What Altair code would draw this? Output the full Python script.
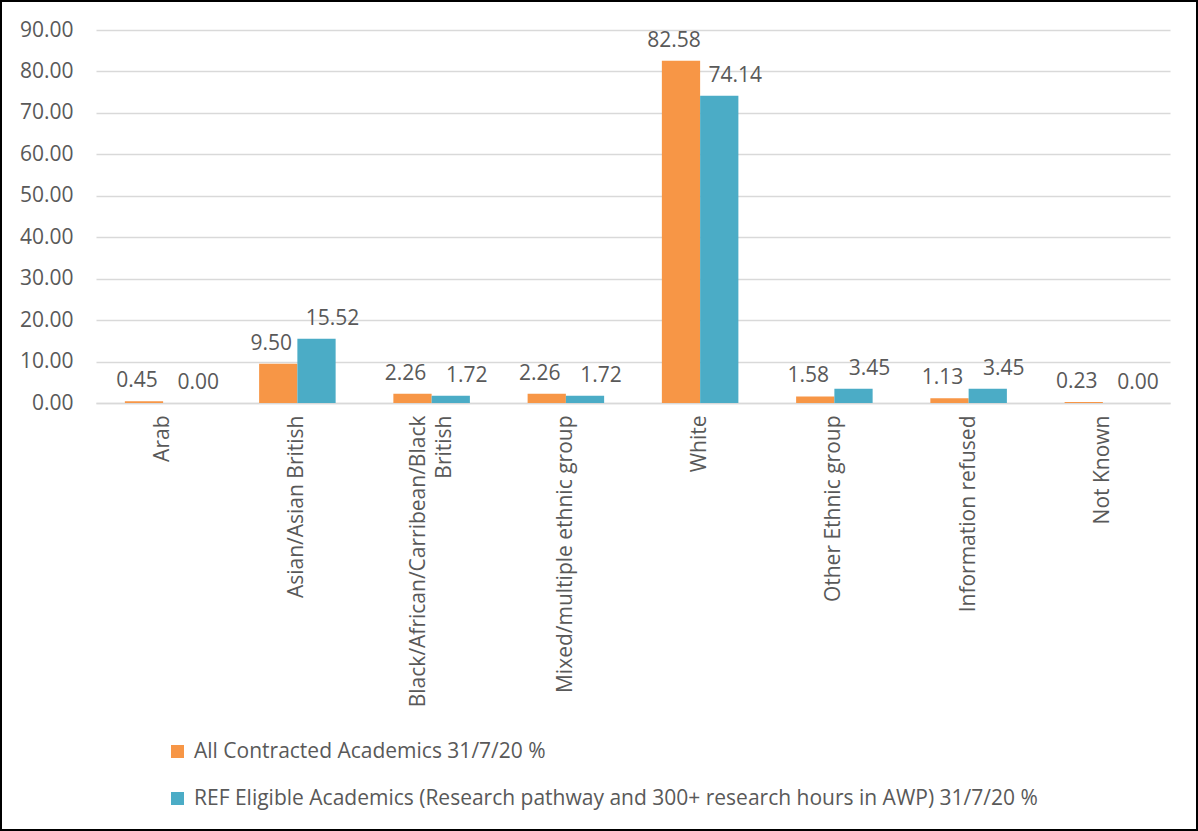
import altair as alt
import pandas as pd

categories = ["Arab", "Asian/Asian British", "Black/African/Carribean/Black British",
              "Mixed/multiple ethnic group", "White", "Other Ethnic group",
              "Information refused", "Not Known"]
series_names = ["All Contracted Academics 31/7/20 %",
                "REF Eligible Academics (Research pathway and 300+ research hours in AWP) 31/7/20 %"]
all_contracted = [0.45, 9.50, 2.26, 2.26, 82.58, 1.58, 1.13, 0.23]
ref_eligible = [0.00, 15.52, 1.72, 1.72, 74.14, 3.45, 3.45, 0.00]
colors = ["#F79646", "#4BACC6"]

rows = []
for c, a, r in zip(categories, all_contracted, ref_eligible):
    rows.append({"cat": c, "series": series_names[0], "value": a})
    rows.append({"cat": c, "series": series_names[1], "value": r})
df = pd.DataFrame(rows)

FONT = "Open Sans"
TXT = "#595959"
FS = 21
LONG = "Black/African/Carribean/Black British"

x_enc = alt.X("cat:N", sort=categories,
              scale=alt.Scale(paddingInner=0.43, paddingOuter=0.215),
              axis=alt.Axis(title=None, labelAngle=-90, labelAlign="right", labelBaseline="middle",
                            labelPadding=12, ticks=False, domain=True, domainColor="#d9d9d9",
                            domainWidth=1.5, labelFontSize=FS, labelColor=TXT, labelFont=FONT,
                            labelLimit=400, labelLineHeight=26,
                            labelOffset={"condition": {"test": f"datum.value == '{LONG}'", "value": -13},
                                         "value": 0},
                            labelExpr=f"datum.label == '{LONG}' ? ['Black/African/Carribean/Black', 'British'] : datum.label"))
xo = alt.XOffset("series:N", sort=series_names, scale=alt.Scale(paddingInner=0, paddingOuter=0))
y_enc = alt.Y("value:Q", scale=alt.Scale(domain=[0, 90], nice=False),
              axis=alt.Axis(title=None, values=list(range(0, 91, 10)), format=".2f",
                            ticks=False, domain=False, gridColor="#d9d9d9", gridWidth=1.5,
                            labelFontSize=FS, labelColor=TXT, labelFont=FONT, labelPadding=23))

bars = alt.Chart(df).mark_bar().encode(
    x=x_enc, xOffset=xo, y=y_enc,
    color=alt.Color("series:N", sort=series_names,
                    scale=alt.Scale(domain=series_names, range=colors),
                    legend=alt.Legend(title=None, orient="none", legendX=71, legendY=711,
                                      direction="vertical", symbolType="square", symbolSize=170,
                                      symbolStrokeWidth=0, labelFontSize=FS, labelColor=TXT,
                                      labelFont=FONT, labelLimit=1000, rowPadding=25,
                                      labelOffset=6))
)

def labels(name, dx):
    return alt.Chart(df).transform_filter(alt.datum.series == name).mark_text(
        baseline="alphabetic", dy=-14, dx=dx, fontSize=FS, color=TXT, font=FONT
    ).encode(x=alt.X("cat:N", sort=categories), xOffset=xo, y="value:Q",
             text=alt.Text("value:Q", format=".2f"))

border = alt.Chart(pd.DataFrame({"a": [0]})).mark_rect(
    fill=None, stroke="black", strokeWidth=2
).encode(x=alt.value(-95), x2=alt.value(1198 - 96 - 1), y=alt.value(-29), y2=alt.value(831 - 30 - 1))

chart = alt.layer(bars, labels(series_names[0], -7), labels(series_names[1], 16), border).properties(
    width=1074, height=373,
    autosize=alt.AutoSizeParams(type="none"),
    padding={"left": 96, "top": 30, "right": 28, "bottom": 428},
    background="white"
).configure_view(stroke=None)

chart.save("out.html", embed_options={"renderer": "svg", "actions": False})
